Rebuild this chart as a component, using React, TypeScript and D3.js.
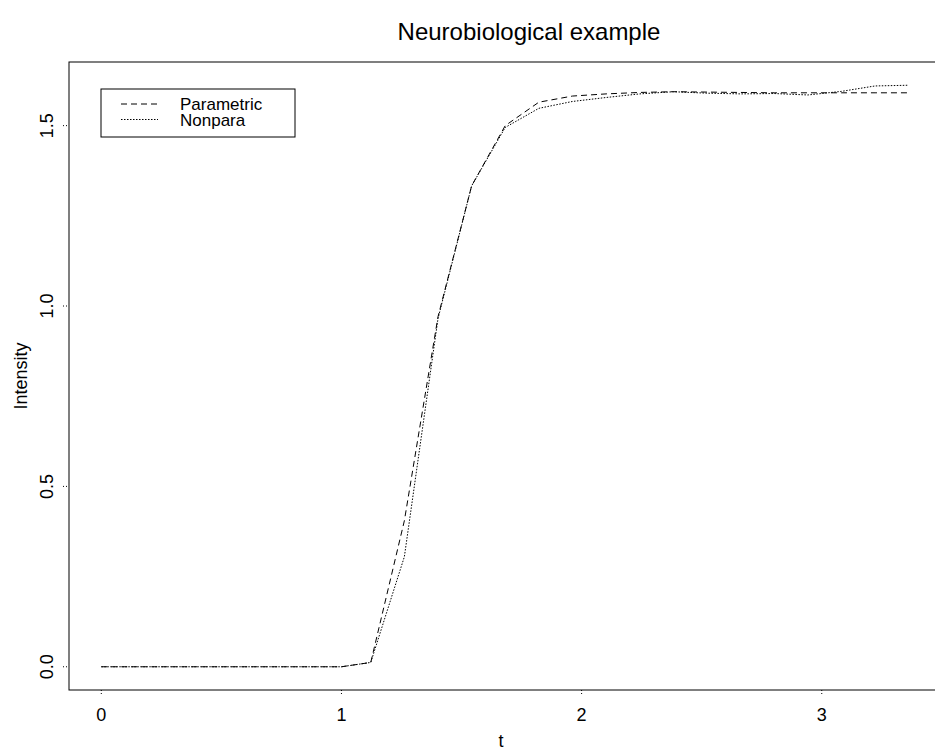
import * as d3 from 'd3';

// time grid (t) and the two fitted curves
const tValues = [0, 1.0, 1.122, 1.262, 1.402, 1.542, 1.682, 1.822, 1.962, 2.102, 2.242, 2.382, 2.522, 2.662, 2.802, 2.942, 3.082, 3.222, 3.362];
const parametric = [0, 0, 0.012, 0.405, 0.97, 1.333, 1.5, 1.565, 1.582, 1.588, 1.592, 1.594, 1.593, 1.592, 1.591, 1.591, 1.591, 1.591, 1.591];
const nonpara = [0, 0, 0.012, 0.305, 0.965, 1.333, 1.495, 1.548, 1.567, 1.578, 1.588, 1.594, 1.59, 1.588, 1.589, 1.585, 1.595, 1.61, 1.612];
const xTicks = [0, 1, 2, 3];
const yTicks = [0, 0.5, 1.0, 1.5];
const seriesNames = ['Parametric', 'Nonpara'];

export default function App() {
  const width = 935;
  const height = 753;
  const left = 69;
  const right = 941;
  const top = 62;
  const bottom = 690;
  const font = 'Liberation Sans, Arial, Helvetica, sans-serif';

  const x = d3.scaleLinear().domain([-0.1345, 3.4965]).range([left, right]);
  const y = d3.scaleLinear().domain([-0.0644, 1.6764]).range([bottom, top]);

  const line = d3.line<number>().x((d, i) => x(tValues[i])).y(d => y(d));

  const dashes = ['6,4', '1.5,1.5'];
  const series = [parametric, nonpara];

  return (
    <svg width={width} height={height} style={{ position: 'absolute', left: 0, top: 0 }}>
      <rect width={width} height={height} fill="white" />
      <text x={529} y={40} textAnchor="middle" fontFamily={font} fontSize={24}>Neurobiological example</text>

      {series.map((s, i) => (
        <path key={i} d={line(s) || ''} fill="none" stroke="black" strokeWidth={1} strokeDasharray={dashes[i]} />
      ))}

      <rect x={left} y={top} width={right - left} height={bottom - top} fill="none" stroke="black" strokeWidth={1} />

      {xTicks.map(t => (
        <g key={t}>
          <line x1={x(t)} x2={x(t)} y1={bottom} y2={bottom + 6} stroke="black" strokeDasharray="1,2" />
          <text x={x(t)} y={721} textAnchor="middle" fontFamily={font} fontSize={18}>{t}</text>
        </g>
      ))}
      {yTicks.map(v => (
        <g key={v}>
          <line x1={left - 6} x2={left} y1={y(v)} y2={y(v)} stroke="black" strokeDasharray="1,2" />
          <text transform={`translate(53,${y(v)}) rotate(-90)`} textAnchor="middle" fontFamily={font} fontSize={18}>{v.toFixed(1)}</text>
        </g>
      ))}
      <text x={501} y={747} textAnchor="middle" fontFamily={font} fontSize={18}>t</text>
      <text transform={`translate(27,${(top + bottom) / 2}) rotate(-90)`} textAnchor="middle" fontFamily={font} fontSize={18}>Intensity</text>

      <rect x={101} y={89} width={194} height={48} fill="white" stroke="black" strokeWidth={1} />
      {seriesNames.map((n, i) => (
        <g key={n}>
          <line x1={121} x2={158} y1={104 + i * 15.5} y2={104 + i * 15.5} stroke="black" strokeDasharray={dashes[i]} />
          <text x={180} y={110 + i * 16} fontFamily={font} fontSize={17}>{n}</text>
        </g>
      ))}
    </svg>
  );
}
